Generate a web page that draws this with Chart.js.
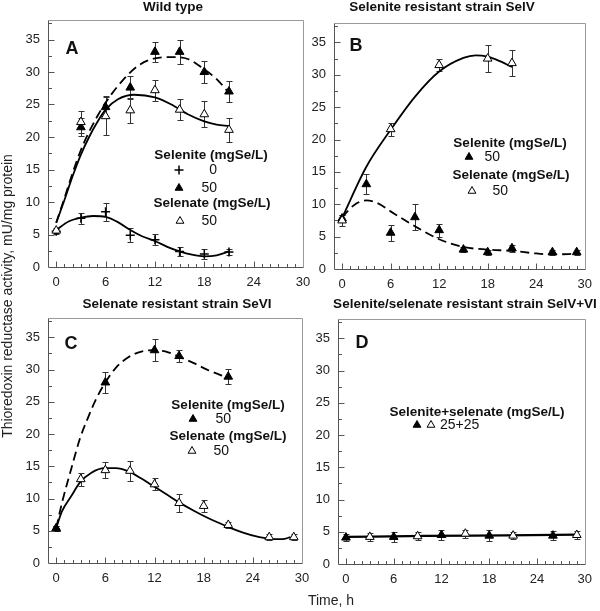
<!DOCTYPE html>
<html>
<head>
  <title>Thioredoxin reductase activity</title>
  <meta charset="UTF-8">
  <style>
    body { margin: 0; background: #fff; }
    #wrap { position: relative; width: 600px; height: 611px; }
    #wrap canvas { position: absolute; left: 0; top: 0; }
  </style>
  <script src="https://cdn.jsdelivr.net/npm/chart.js"></script>
</head>
<body>
  <div id="wrap">
    <canvas id="chartA" width="600" height="611"></canvas>
    <canvas id="chartB" width="600" height="611"></canvas>
    <canvas id="chartC" width="600" height="611"></canvas>
    <canvas id="chartD" width="600" height="611"></canvas>
  </div>

  <script>
  // ---- data ----
  const xTicks = [0, 6, 12, 18, 24, 30];
  const yTicks = [0, 5, 10, 15, 20, 25, 30, 35];

  // A: wild type
  const tA = [0, 3, 6, 9, 12, 15, 18, 21];
  const tA50 = [3, 6, 9, 12, 15, 18, 21];
  const aSelenite0 = [5.5, 7.5, 8.5, 4.9, 4.2, 2.4, 2.0, 2.3];
  const aSelenite0Err = [0.4, 0.85, 1.4, 1.1, 0.85, 0.7, 0.7, 0.5];
  const aSelenite50 = [21.5, 24.6, 27.6, 33.1, 33.1, 30.0, 27.0];
  const aSelenite50Err = [1.4, 1.7, 1.8, 1.5, 1.9, 1.7, 1.6];
  const aSelenate50 = [5.6, 22.3, 23.2, 24.1, 27.2, 24.2, 23.5, 21.1];
  const aSelenate50Err = [0.4, 1.7, 2.9, 1.9, 1.6, 1.6, 2.0, 1.8];
  // fitted curves (traced)
  const fitA0T = [0, 1.5, 3, 4.5, 6, 7.5, 9, 10.5, 12, 13.5, 15, 16.5, 18, 19.5, 21];
  const fitA0Y = [5.7, 7.0, 7.6, 7.85, 7.7, 6.9, 5.7, 4.7, 4.0, 3.1, 2.4, 1.9, 1.65, 1.8, 2.4];
  const fitAiteT = [0, 1, 2, 3, 4, 5, 6, 8, 10, 12, 14, 16, 18, 19.5, 21];
  const fitAiteY = [6.8, 10.6, 14.5, 18.0, 20.8, 23.2, 25.3, 28.6, 31.0, 32.1, 32.3, 32.0, 30.4, 28.9, 26.8];
  const fitAateT = [0, 1, 2, 3, 4, 5, 6, 7.5, 9.5, 12, 14, 16, 18, 19.5, 21];
  const fitAateY = [6.8, 10.3, 14.0, 17.3, 20.0, 22.3, 24.2, 25.8, 26.5, 26.1, 25.0, 23.5, 22.4, 21.9, 21.7];

  // B: selenite resistant strain SelV
  const tB = [0, 3, 6, 9, 12, 15, 18, 21, 26, 29];
  const tBate = [0, 6, 12, 18, 21];
  const bSelenite50 = [7.8, 13.1, 5.6, 8.0, 6.0, 3.0, 2.6, 3.2, 2.6, 2.6];
  const bSelenite50Err = [0.5, 1.5, 1.2, 2.0, 1.0, 0.4, 0.4, 0.5, 0.4, 0.4];
  const bSelenate50 = [7.5, 21.6, 31.5, 32.5, 31.8];
  const bSelenate50Err = [0.9, 1.0, 0.9, 2.1, 2.0];
  const fitBateT = [0, 3, 6, 9, 12, 15, 16.5, 18, 19.5, 21];
  const fitBateY = [7.9, 15.8, 21.5, 26.6, 30.5, 32.6, 33.0, 32.8, 32.1, 31.2];
  const fitBiteT = [0, 1.5, 3, 4.5, 6, 9, 12, 15, 18, 21, 24, 26, 29];
  const fitBiteY = [8.0, 9.9, 10.6, 10.1, 8.9, 6.6, 4.6, 3.4, 3.0, 2.8, 2.4, 2.25, 2.35];

  // C: selenate resistant strain SeVI
  const tC = [0, 3, 6, 9, 12, 15, 18, 21, 26, 29];
  const tCite = [0, 6, 12, 15, 21];
  const cSelenate50 = [5.3, 13.0, 14.4, 14.3, 12.2, 9.3, 8.85, 5.9, 4.0, 4.0];
  const cSelenate50Err = [0.4, 1.0, 1.2, 1.55, 0.95, 1.4, 0.95, 0.4, 0.5, 0.45];
  const cSelenite50 = [5.4, 28.0, 33.0, 32.1, 28.9];
  const cSelenite50Err = [0.4, 1.6, 1.7, 1.0, 1.2];
  const fitCiteT = [0, 0.7, 1.9, 2.9, 3.9, 4.9, 5.9, 7.3, 8.8, 10.4, 11.9, 13.4, 15, 16.8, 18.4, 20.8];
  const fitCiteY = [5.4, 9.3, 14.9, 19.3, 22.6, 25.5, 27.8, 30.3, 31.9, 32.8, 33.0, 32.8, 32.0, 31.0, 30.0, 28.8];
  const fitCateT = [0, 0.7, 1.9, 2.9, 4.3, 5.9, 7.3, 8.8, 10.4, 11.9, 13.4, 15, 16.8, 18.4, 20.8, 22.8, 24.8, 26.6, 27.6, 28.6];
  const fitCateY = [5.4, 8.0, 10.5, 12.5, 14.0, 14.7, 14.7, 14.2, 13.1, 11.9, 10.7, 9.4, 8.1, 7.05, 5.7, 4.7, 4.0, 3.7, 3.7, 4.0];

  // D: selenite/selenate resistant strain SelV+VI
  const tDite = [0, 6, 12, 18, 26];
  const tDate = [3, 9, 15, 21, 29];
  const dSelenite25 = [4.1, 4.2, 4.5, 4.4, 4.4];
  const dSelenite25Err = [0.5, 0.8, 0.8, 0.9, 0.7];
  const dSelenate25 = [4.2, 4.3, 4.7, 4.4, 4.5];
  const dSelenate25Err = [0.6, 0.6, 0.6, 0.5, 0.6];
  const fitDT = [0, 10, 20, 29];
  const fitDY = [4.2, 4.35, 4.45, 4.55];

  // ---- drawing ----
  const W = 600, H = 611;
  const Y_AXIS_W = 40, X_AXIS_H = 24;
  const FONT = '"Liberation Sans", Arial, sans-serif';
  Chart.defaults.font.family = FONT;
  Chart.defaults.color = '#222';

  const FILLED = { shape: 'triangle', r: 5, fill: '#000', bw: 1, order: 2 };
  const OPEN = { shape: 'triangle', r: 5, fill: '#fff', bw: 1, order: 1 };
  const PLUS = { shape: 'cross', r: 4.5, fill: '#000', bw: 1.5, order: 2 };

  function pts(xs, ys) { return xs.map((x, i) => ({ x: x, y: ys[i] })); }

  function markerSet(xs, ys, errs, st) {
    return {
      data: pts(xs, ys), err: errs, showLine: false,
      pointStyle: st.shape, pointRadius: st.r, pointHoverRadius: st.r,
      pointBackgroundColor: st.fill, pointBorderColor: '#000', pointBorderWidth: st.bw,
      order: st.order
    };
  }

  function fitSet(xs, ys, dashed, width) {
    return {
      data: pts(xs, ys), pointRadius: 0, borderColor: '#000', borderWidth: width || 1.8,
      borderDash: dashed ? [9, 5] : [], cubicInterpolationMode: 'monotone', fill: false, order: 3
    };
  }

  const errorBars = {
    id: 'errorBars',
    beforeDatasetsDraw(chart) {
      const ctx = chart.ctx, ys = chart.scales.y;
      ctx.save();
      ctx.strokeStyle = '#333';
      ctx.lineWidth = 1;
      chart.data.datasets.forEach((ds, i) => {
        if (!ds.err) return;
        chart.getDatasetMeta(i).data.forEach((pt, j) => {
          const v = ds.data[j].y, e = ds.err[j];
          const x = Math.round(pt.x) + 0.5;
          const top = Math.round(ys.getPixelForValue(v + e)) + 0.5;
          const bot = Math.round(ys.getPixelForValue(v - e)) + 0.5;
          ctx.beginPath();
          ctx.moveTo(x, top); ctx.lineTo(x, bot);
          ctx.moveTo(x - 3, top); ctx.lineTo(x + 3, top);
          ctx.moveTo(x - 3, bot); ctx.lineTo(x + 3, bot);
          ctx.stroke();
        });
      });
      ctx.restore();
    }
  };

  const frame = {
    id: 'frame',
    afterDatasetsDraw(chart) {
      const ctx = chart.ctx, a = chart.chartArea;
      const xs = chart.scales.x, ys = chart.scales.y;
      const L = Math.round(a.left) + 0.5, R = Math.round(a.right) + 0.5;
      const T = Math.round(a.top) + 0.5, B = Math.round(a.bottom) + 0.5;
      ctx.save();
      ctx.lineWidth = 1;
      ctx.strokeStyle = '#999';
      ctx.beginPath();
      ctx.moveTo(L, T); ctx.lineTo(R, T); ctx.lineTo(R, B);
      ctx.stroke();
      ctx.strokeStyle = '#555';
      ctx.beginPath();
      ctx.moveTo(L, T); ctx.lineTo(L, B); ctx.lineTo(R, B);
      // y ticks every 2.5, inward
      for (let v = 2.5; v < 38; v += 2.5) {
        const y = Math.round(ys.getPixelForValue(v)) + 0.5;
        const len = v % 5 === 0 ? 6 : 3.5;
        ctx.moveTo(L, y); ctx.lineTo(L + len, y);
      }
      // x ticks every hour, inward
      for (let h = 0; h < 30; h += 1) {
        const x = Math.round(xs.getPixelForValue(h)) + 0.5;
        const len = h % 6 === 0 ? 6 : 3.5;
        ctx.moveTo(x, B); ctx.lineTo(x, B - len);
      }
      ctx.stroke();
      ctx.restore();
    }
  };

  const deco = {
    id: 'deco',
    afterDraw(chart, args, opts) {
      const ctx = chart.ctx;
      ctx.save();
      ctx.fillStyle = '#111';
      ctx.textBaseline = 'middle';
      ctx.textAlign = 'center';
      ctx.font = 'bold 13.5px ' + FONT;
      ctx.fillText(opts.title[0], opts.title[1], opts.title[2]);
      ctx.font = 'bold 18px ' + FONT;
      ctx.fillText(opts.letter[0], opts.letter[1], opts.letter[2]);
      opts.items.forEach(it => {
        if (it.head) {
          ctx.font = 'bold 13.5px ' + FONT;
          ctx.textAlign = 'center';
          ctx.fillText(it.head, it.x, it.y);
        } else if (it.num) {
          ctx.font = '14px ' + FONT;
          ctx.textAlign = it.align || 'right';
          ctx.fillText(it.num, it.x, it.y);
        } else if (it.mark) {
          ctx.fillStyle = it.mark.fill;
          ctx.strokeStyle = '#000';
          ctx.lineWidth = it.mark.bw;
          Chart.helpers.drawPoint(ctx, { pointStyle: it.mark.shape, radius: 4.5, borderWidth: it.mark.bw, rotation: 0 }, it.x, it.y);
          ctx.fillStyle = '#111';
        }
      });
      ctx.restore();
    }
  };

  const pageLabels = {
    id: 'pageLabels',
    afterDraw(chart) {
      const ctx = chart.ctx;
      ctx.save();
      ctx.fillStyle = '#222';
      ctx.font = '14px ' + FONT;
      ctx.textAlign = 'center';
      ctx.textBaseline = 'middle';
      ctx.fillText('Time, h', 331, 601);
      ctx.translate(8, 296);
      ctx.rotate(-Math.PI / 2);
      ctx.fillText('Thioredoxin reductase activity, mU/mg protein', 0, 0);
      ctx.restore();
    }
  };

  function panel(id, box, datasets, decoOpts, extra) {
    return new Chart(document.getElementById(id), {
      type: 'line',
      data: { datasets: datasets },
      options: {
        responsive: false,
        animation: false,
        devicePixelRatio: 1,
        events: [],
        layout: {
          padding: {
            left: box.left - Y_AXIS_W,
            right: W - box.right,
            top: box.top,
            bottom: H - box.bottom - X_AXIS_H
          }
        },
        plugins: { legend: { display: false }, tooltip: { enabled: false }, deco: decoOpts },
        scales: {
          x: {
            type: 'linear', min: -1, max: 30,
            grid: { display: false, drawTicks: false }, border: { display: false },
            ticks: { padding: 8, font: { size: 13 }, color: '#222' },
            afterBuildTicks: s => { s.ticks = xTicks.map(v => ({ value: v })); },
            afterFit: s => { s.height = X_AXIS_H; }
          },
          y: {
            type: 'linear', min: 0, max: 38,
            grid: { display: false, drawTicks: false }, border: { display: false },
            ticks: { padding: 8, font: { size: 13 }, color: '#222' },
            afterBuildTicks: s => { s.ticks = yTicks.map(v => ({ value: v })); },
            afterFit: s => { s.width = Y_AXIS_W; }
          }
        }
      },
      plugins: [errorBars, frame, deco].concat(extra || [])
    });
  }

  panel('chartA', { left: 48, right: 303, top: 20, bottom: 267 }, [
    fitSet(fitA0T, fitA0Y, false),
    fitSet(fitAiteT, fitAiteY, true),
    fitSet(fitAateT, fitAateY, false),
    markerSet(tA, aSelenite0, aSelenite0Err, PLUS),
    markerSet(tA50, aSelenite50, aSelenite50Err, FILLED),
    markerSet(tA, aSelenate50, aSelenate50Err, OPEN)
  ], {
    title: ['Wild type', 173, 7],
    letter: ['A', 72, 49],
    items: [
      { head: 'Selenite (mgSe/L)', x: 211, y: 155 },
      { mark: PLUS, x: 179, y: 170 }, { num: '0', x: 217, y: 170 },
      { mark: FILLED, x: 179, y: 188 }, { num: '50', x: 217, y: 188 },
      { head: 'Selenate (mgSe/L)', x: 212, y: 203 },
      { mark: OPEN, x: 180, y: 221 }, { num: '50', x: 217, y: 221 }
    ]
  }, [pageLabels]);

  panel('chartB', { left: 334, right: 589, top: 23, bottom: 269 }, [
    fitSet(fitBateT, fitBateY, false),
    fitSet(fitBiteT, fitBiteY, true),
    markerSet(tB, bSelenite50, bSelenite50Err, FILLED),
    markerSet(tBate, bSelenate50, bSelenate50Err, OPEN)
  ], {
    title: ['Selenite resistant strain SelV', 442, 7],
    letter: ['B', 356, 46],
    items: [
      { head: 'Selenite (mgSe/L)', x: 510, y: 143 },
      { mark: FILLED, x: 469, y: 157 }, { num: '50', x: 500, y: 157 },
      { head: 'Selenate (mgSe/L)', x: 511, y: 175 },
      { mark: OPEN, x: 472, y: 191 }, { num: '50', x: 508, y: 191 }
    ]
  });

  panel('chartC', { left: 48, right: 302, top: 318, bottom: 563 }, [
    fitSet(fitCiteT, fitCiteY, true),
    fitSet(fitCateT, fitCateY, false),
    markerSet(tC, cSelenate50, cSelenate50Err, OPEN),
    Object.assign(markerSet(tCite, cSelenite50, cSelenite50Err, FILLED), { order: 0 })
  ], {
    title: ['Selenate resistant strain SeVI', 177, 304],
    letter: ['C', 71, 344],
    items: [
      { head: 'Selenite (mgSe/L)', x: 228, y: 405 },
      { mark: FILLED, x: 193, y: 419 }, { num: '50', x: 231, y: 419 },
      { head: 'Selenate (mgSe/L)', x: 228, y: 436 },
      { mark: OPEN, x: 192, y: 451 }, { num: '50', x: 229, y: 451 }
    ]
  });

  panel('chartD', { left: 338, right: 592, top: 319, bottom: 564 }, [
    fitSet(fitDT, fitDY, false, 2.2),
    markerSet(tDite, dSelenite25, dSelenite25Err, FILLED),
    markerSet(tDate, dSelenate25, dSelenate25Err, OPEN)
  ], {
    title: ['Selenite/selenate resistant strain SelV+VI', 465, 304],
    letter: ['D', 362, 343],
    items: [
      { head: 'Selenite+selenate (mgSe/L)', x: 477, y: 412 },
      { mark: FILLED, x: 417, y: 425 }, { mark: OPEN, x: 431, y: 425 },
      { num: '25+25', x: 440, y: 425, align: 'left' }
    ]
  });
  </script>
</body>
</html>
